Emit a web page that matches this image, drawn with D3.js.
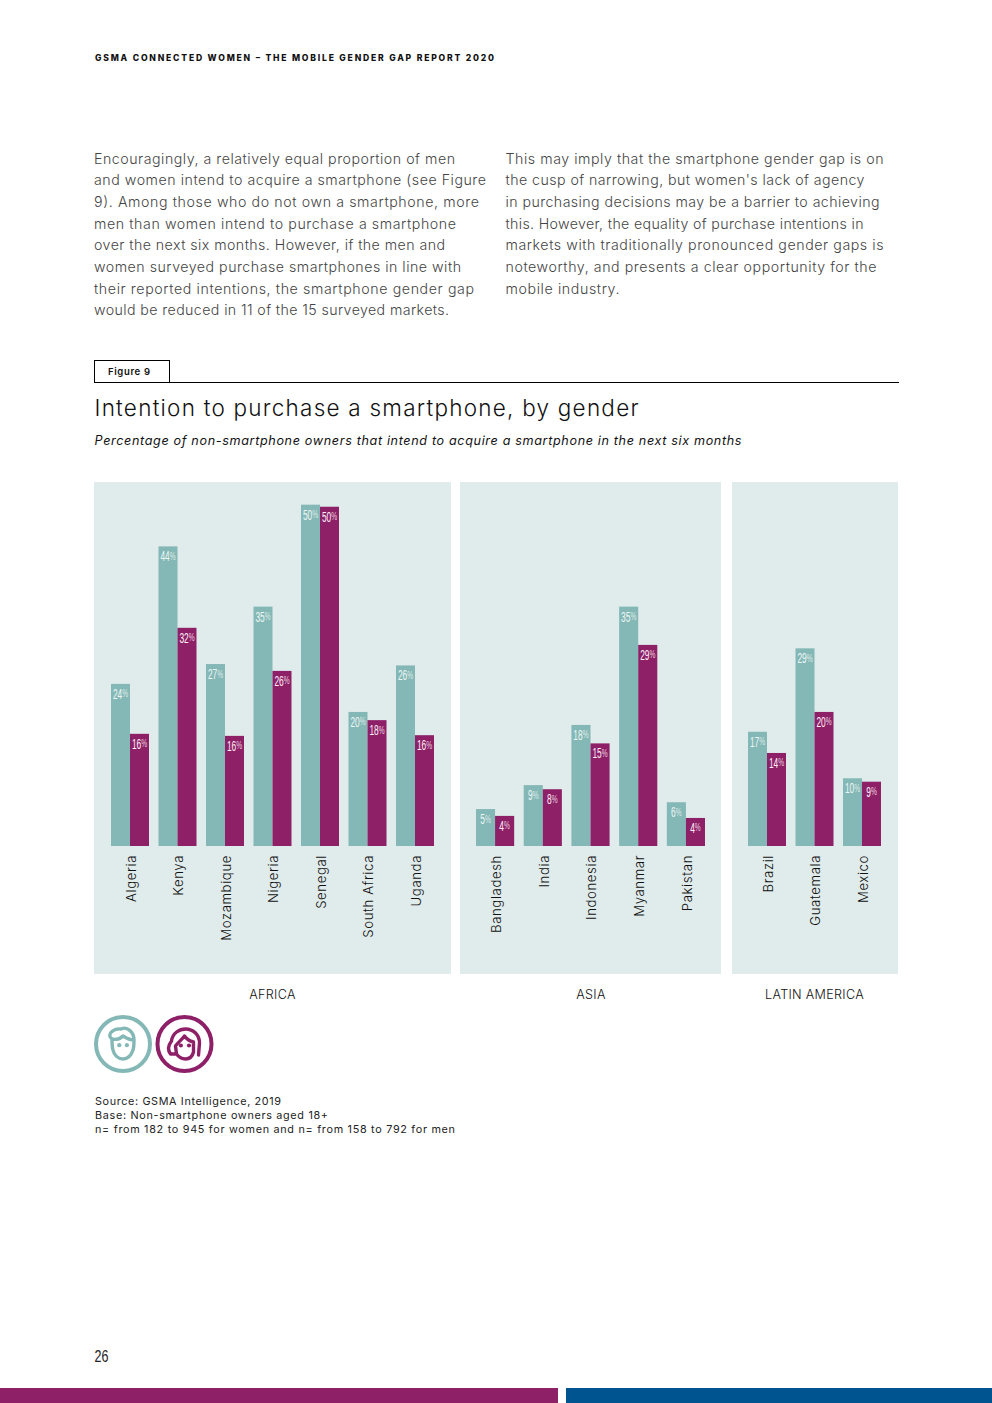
<!DOCTYPE html>
<html><head><meta charset="utf-8">
<script src="https://cdn.jsdelivr.net/npm/d3@7"></script>
<style>html,body{margin:0;padding:0;background:#fff}svg{display:block}</style></head>
<body><svg id="page" width="992" height="1403"></svg>
<script>
const africa=["Algeria","Kenya","Mozambique","Nigeria","Senegal","South Africa","Uganda"];
const africaMen=[23.7,43.8,26.6,35,49.9,19.6,26.4];
const africaWomen=[16.4,31.9,16.1,25.6,49.6,18.4,16.2];
const asia=["Bangladesh","India","Indonesia","Myanmar","Pakistan"];
const asiaMen=[5.4,8.9,17.7,35,6.4];
const asiaWomen=[4.4,8.3,15,29.4,4.1];
const latam=["Brazil","Guatemala","Mexico"];
const latamMen=[16.7,28.9,9.9];
const latamWomen=[13.6,19.6,9.4];
const genders=["men","women"];
const regionNames=["AFRICA","ASIA","LATIN AMERICA"];
const leftText=["Encouragingly, a relatively equal proportion of men","and women intend to acquire a smartphone (see Figure","9). Among those who do not own a smartphone, more","men than women intend to purchase a smartphone","over the next six months. However, if the men and","women surveyed purchase smartphones in line with","their reported intentions, the smartphone gender gap","would be reduced in 11 of the 15 surveyed markets."];
const rightText=["This may imply that the smartphone gender gap is on","the cusp of narrowing, but women's lack of agency","in purchasing decisions may be a barrier to achieving","this. However, the equality of purchase intentions in","markets with traditionally pronounced gender gaps is","noteworthy, and presents a clear opportunity for the","mobile industry."];
const sourceText=["Source: GSMA Intelligence, 2019","Base: Non-smartphone owners aged 18+","n= from 182 to 945 for women and n= from 158 to 792 for men"];

const TEAL="#84b8b6",PLUM="#8e2068",PANEL="#e0ebeb",INK="#1a1a1a";
const FONT="Inter, 'Open Sans', sans-serif";
const NARROW="'Liberation Sans', sans-serif";
const svg=d3.select("#page");
function fit(sel,w){sel.attr("textLength",w).attr("lengthAdjust","spacing");return sel;}
function txt(x,y,s,size,o={}){
  const t=svg.append("text").attr("x",x).attr("y",y).text(s)
    .attr("font-family",o.family||FONT).attr("font-size",size)
    .attr("font-weight",o.weight||400).attr("fill",o.fill||INK)
    .attr("text-anchor",o.anchor||"start");
  if(o.style)t.attr("font-style",o.style);
  if(o.w)fit(t,o.w);
  return t;
}
// header
txt(95,61,"GSMA CONNECTED WOMEN – THE MOBILE GENDER GAP REPORT 2020",8.6,{weight:800,fill:"#111",w:399});
// body copy
const leftW=[361,392,385,362,351,367,380,355];
const rightW=[378,359,374,358,378,371,114];
const lineY=[164,185,207,229,250,272,294,315];
leftText.forEach((s,i)=>txt(94,lineY[i],s,14.2,{weight:300,fill:"#444",w:leftW[i]}));
rightText.forEach((s,i)=>txt(505.5,lineY[i],s,14.2,{weight:300,fill:"#444",w:rightW[i]}));
// figure tag + rule
svg.append("rect").attr("x",94.5).attr("y",360.5).attr("width",75).attr("height",22).attr("fill","#fff").attr("stroke","#000");
svg.append("line").attr("x1",94).attr("x2",899).attr("y1",382.5).attr("y2",382.5).attr("stroke","#000");
txt(108,375,"Figure 9",9.5,{weight:600,fill:"#111",w:42});
txt(94.5,416,"Intention to purchase a smartphone, by gender",22.5,{weight:300,fill:"#111",w:544});
txt(94.5,445,"Percentage of non-smartphone owners that intend to acquire a smartphone in the next six months",12.6,{style:"italic",fill:"#111",w:647});

// chart
const y=d3.scaleLinear().domain([0,50]).range([846,504]);
const panels=[
 {name:regionNames[0],cats:africa,men:africaMen,women:africaWomen,px:[94,451],bx:[111,434],lx:272.5},
 {name:regionNames[1],cats:asia,men:asiaMen,women:asiaWomen,px:[460,721],bx:[476,705],lx:591},
 {name:regionNames[2],cats:latam,men:latamMen,women:latamWomen,px:[732,898],bx:[748,881],lx:814.5}
];
const fmt=d3.format(".0f");
panels.forEach(p=>{
  svg.append("rect").attr("x",p.px[0]).attr("y",482).attr("width",p.px[1]-p.px[0]).attr("height",492).attr("fill",PANEL);
  const x=d3.scaleBand().domain(p.cats).range(p.bx).paddingInner(0.2).paddingOuter(0);
  const g=d3.scaleBand().domain(genders).range([0,x.bandwidth()]);
  const colour=d3.scaleOrdinal().domain(genders).range([TEAL,PLUM]);
  genders.forEach(k=>{
    const gr=svg.append("g").attr("class",k);
    gr.selectAll("rect").data(p.cats.map((c,i)=>({c,v:p[k][i]}))).join("rect")
      .attr("x",d=>x(d.c)+g(k)).attr("width",g.bandwidth())
      .attr("y",d=>y(d.v)).attr("height",d=>y(0)-y(d.v)).attr("fill",colour(k));
    const lab=gr.selectAll("text").data(p.cats.map((c,i)=>({c,v:p[k][i]}))).join("text")
      .attr("transform",d=>`translate(${x(d.c)+g(k)+g.bandwidth()/2},${y(d.v)+15}) scale(0.6,1)`)
      .attr("text-anchor","middle").attr("font-family",NARROW)
      .attr("font-size",14).attr("fill",k==="men"?"#eef6f5":"#fdf0f7");
    lab.append("tspan").text(d=>fmt(d.v));
    lab.append("tspan").text("%").attr("font-size",11).attr("dy",-1.5).attr("fill-opacity",0.85);
  });
  // category axis labels
  const ax=svg.append("g").attr("transform","translate(0,855)").call(d3.axisBottom(x).tickSize(0).tickPadding(0));
  ax.select(".domain").remove();
  ax.selectAll("text").attr("transform","translate(1,0) rotate(-90)").attr("text-anchor","end")
    .attr("x",0).attr("y",0).attr("dx",0).attr("dy","0.36em")
    .attr("font-family",FONT).attr("font-weight",300).attr("font-size",13.2).attr("fill","#111").attr("letter-spacing",0.6);
  txt(p.lx,999,p.name,12.6,{anchor:"middle",fill:"#111",weight:300}).attr("letter-spacing",0.3);
});

// legend icons
function icon(cx,cy,col,female){
  const g=svg.append("g").attr("transform",`translate(${cx},${cy})`).attr("fill","none").attr("stroke",col).attr("stroke-linecap","round").attr("stroke-linejoin","round");
  g.append("circle").attr("r",27).attr("stroke-width",4);
  if(!female){
    g.append("path").attr("stroke-width",3.4).attr("d","M-11,-5 C-17,-9 -10,-16 -2,-15 C4,-18 11,-12 11,-4 C11,0 11,3 10,6 C8,12 4,15 0,15 C-5,15 -9,11 -10,6 C-11,3 -11,0 -11,-5 C-7,-4 -3,-5 0,-8 C3,-6 7,-4 11,-4");
    g.append("circle").attr("cx",-3.7).attr("cy",1.2).attr("r",2.1).attr("fill",col).attr("stroke","none");
    g.append("circle").attr("cx",3.9).attr("cy",1.2).attr("r",2.1).attr("fill",col).attr("stroke","none");
  }else{
    g.append("path").attr("stroke-width",3.4).attr("d","M-14,10 C-17,6 -16,1 -13,-3 C-12,-11 -5,-15 1,-15 C9,-15 15,-9 15,-1 L14,11 M-14,10 L-8,10 C-5,14 -2,15 1,15 C5,15 8,12 9,8 L9,-2 C5,-3 2,-5 0,-8 C-3,-4 -7,-1 -9,2 L-8,10");
    g.append("circle").attr("cx",-3.6).attr("cy",1.5).attr("r",2.1).attr("fill",col).attr("stroke","none");
    g.append("circle").attr("cx",4.5).attr("cy",1.5).attr("r",2.1).attr("fill",col).attr("stroke","none");
  }
}
icon(123,1044,TEAL,false);
icon(184.5,1044,PLUM,true);

// source
const srcW=[186,233,360];
sourceText.forEach((s,i)=>txt(95,[1105,1119,1133][i],s,10.8,{fill:"#222",w:srcW[i]}));

// footer
svg.append("text").attr("transform","translate(94.5,1361.5) scale(0.78,1)").attr("font-family",NARROW).attr("font-size",16).attr("fill","#222").text("26");
svg.append("rect").attr("x",0).attr("y",1388).attr("width",558).attr("height",15).attr("fill",PLUM);
svg.append("rect").attr("x",566).attr("y",1388).attr("width",426).attr("height",15).attr("fill","#00548f");
</script></body></html>
